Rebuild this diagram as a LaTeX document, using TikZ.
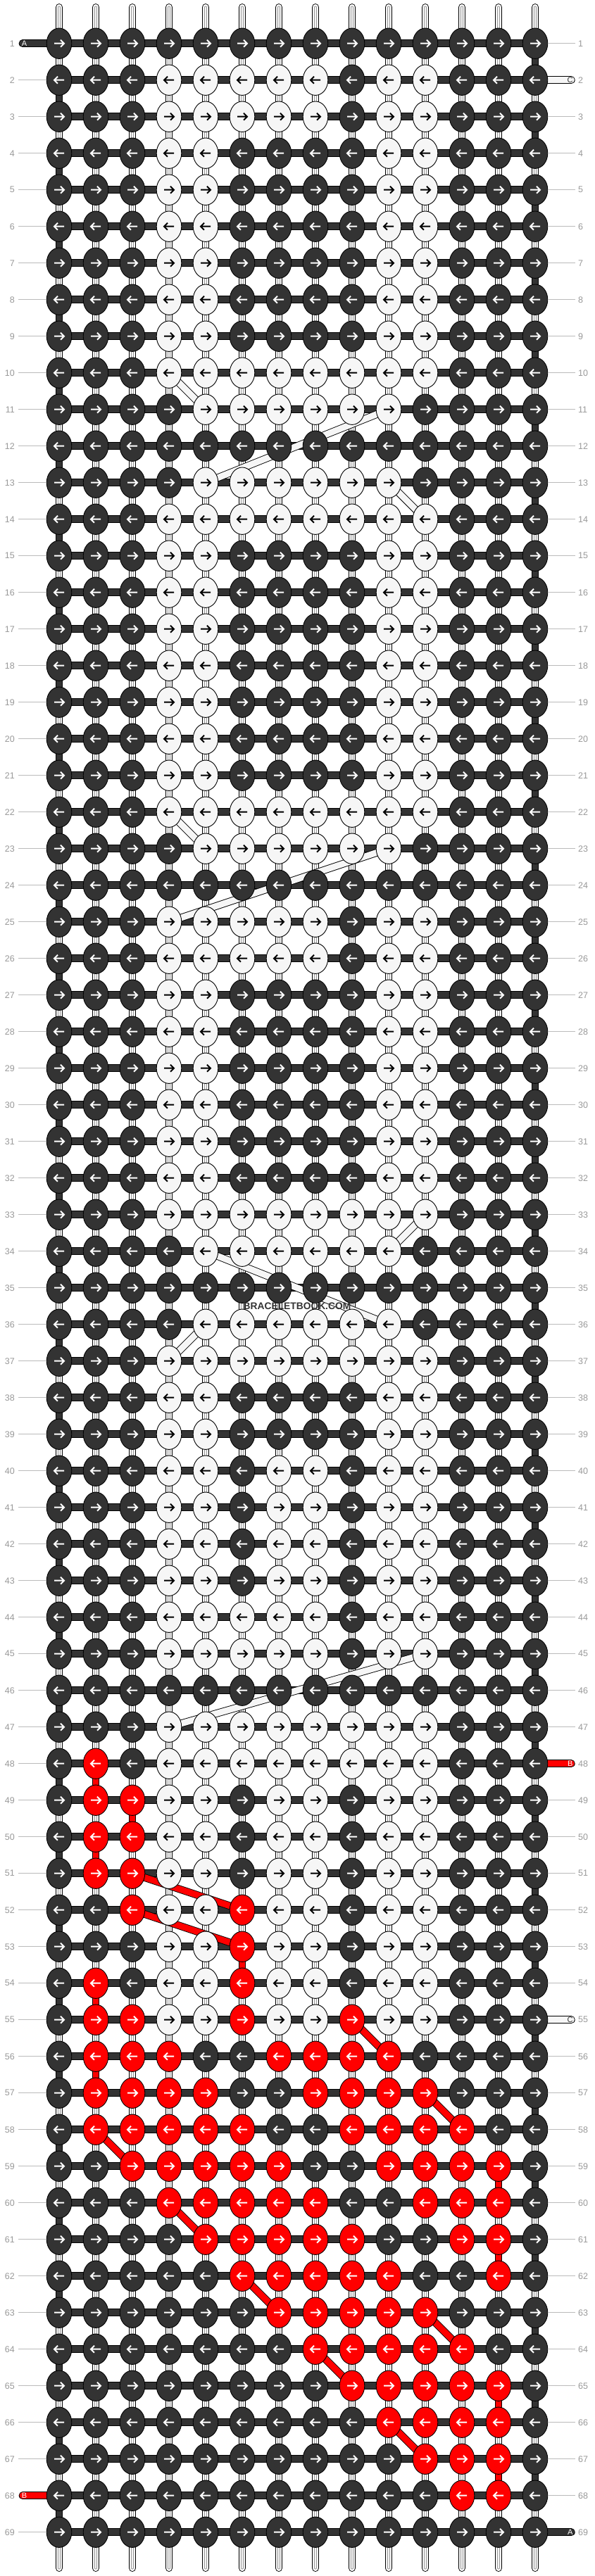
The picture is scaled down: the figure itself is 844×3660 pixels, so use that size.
\documentclass[tikz,border=0pt]{standalone}
\usepackage{fontspec}
\setmainfont{Liberation Sans}
\usetikzlibrary{shapes.geometric}
\definecolor{dk}{HTML}{333333}
\definecolor{wt}{HTML}{F6F6F6}
\definecolor{rd}{HTML}{FF0000}
\definecolor{lblgray}{HTML}{999999}
\definecolor{lline}{HTML}{BBBBBB}
\colorlet{fD}{dk}\colorlet{fW}{wt}\colorlet{fR}{rd}
\colorlet{aD}{white}\colorlet{aW}{black}\colorlet{aR}{white}
\colorlet{sD}{dk}\colorlet{sW}{wt}\colorlet{sR}{rd}
\pgfdeclarelayer{strings}
\pgfsetlayers{strings,main}
\tikzset{
 knot/.style={ellipse, minimum width=35.6, minimum height=43.4, inner sep=0, draw=black, line width=0.9},
 arr/.style={line width=2},
 strand/.style={line width=10.7, draw=black, postaction={draw=#1, line width=8.9}},
 strW/.style={line width=10.7, draw=black, postaction={draw=wt, line width=8.9}, postaction={draw=black!40, line width=3.6}, postaction={draw=wt, line width=1.8}},
 tick/.style={draw=lline, line width=1},
 lbl/.style={font=\fontsize{12.5}{14}\selectfont, text=lblgray, inner sep=0},
 stubl/.style={font=\fontsize{11}{12}\selectfont, inner sep=0},
 wm/.style={font=\bfseries\fontsize{13.8}{15}\selectfont, text=dk, inner sep=0}
}
\expandafter\def\csname vs-48-1\endcsname{R}
\expandafter\def\csname vs-49-2\endcsname{R}
\expandafter\def\csname vs-50-1\endcsname{R}
\expandafter\def\csname vs-53-5\endcsname{R}
\expandafter\def\csname vs-54-1\endcsname{R}
\expandafter\def\csname vs-56-1\endcsname{R}
\expandafter\def\csname vs-59-12\endcsname{R}
\expandafter\def\csname vs-61-12\endcsname{R}
\expandafter\def\csname vs-65-12\endcsname{R}
\expandafter\def\csname vs-67-12\endcsname{R}
\begin{document}
\begin{tikzpicture}[x=1pt,y=-1pt]
\useasboundingbox (0,0) rectangle (844,3660);
\begin{pgfonlayer}{strings}
\fill[white] (0,0) rectangle (844,3660);
\end{pgfonlayer}
% knots
\foreach \r/\s in {
1/{D,D,D,D,D,D,D,D,D,D,D,D,D,D},
2/{D,D,D,W,W,W,W,W,D,W,W,D,D,D},
3/{D,D,D,W,W,W,W,W,D,W,W,D,D,D},
4/{D,D,D,W,W,D,D,D,D,W,W,D,D,D},
5/{D,D,D,W,W,D,D,D,D,W,W,D,D,D},
6/{D,D,D,W,W,D,D,D,D,W,W,D,D,D},
7/{D,D,D,W,W,D,D,D,D,W,W,D,D,D},
8/{D,D,D,W,W,D,D,D,D,W,W,D,D,D},
9/{D,D,D,W,W,D,D,D,D,W,W,D,D,D},
10/{D,D,D,W,W,W,W,W,W,W,W,D,D,D},
11/{D,D,D,D,W,W,W,W,W,W,D,D,D,D},
12/{D,D,D,D,D,D,D,D,D,D,D,D,D,D},
13/{D,D,D,D,W,W,W,W,W,W,D,D,D,D},
14/{D,D,D,W,W,W,W,W,W,W,W,D,D,D},
15/{D,D,D,W,W,D,D,D,D,W,W,D,D,D},
16/{D,D,D,W,W,D,D,D,D,W,W,D,D,D},
17/{D,D,D,W,W,D,D,D,D,W,W,D,D,D},
18/{D,D,D,W,W,D,D,D,D,W,W,D,D,D},
19/{D,D,D,W,W,D,D,D,D,W,W,D,D,D},
20/{D,D,D,W,W,D,D,D,D,W,W,D,D,D},
21/{D,D,D,W,W,D,D,D,D,W,W,D,D,D},
22/{D,D,D,W,W,W,W,W,W,W,W,D,D,D},
23/{D,D,D,D,W,W,W,W,W,W,D,D,D,D},
24/{D,D,D,D,D,D,D,D,D,D,D,D,D,D},
25/{D,D,D,W,W,W,W,W,D,W,W,D,D,D},
26/{D,D,D,W,W,W,W,W,D,W,W,D,D,D},
27/{D,D,D,W,W,D,D,D,D,W,W,D,D,D},
28/{D,D,D,W,W,D,D,D,D,W,W,D,D,D},
29/{D,D,D,W,W,D,D,D,D,W,W,D,D,D},
30/{D,D,D,W,W,D,D,D,D,W,W,D,D,D},
31/{D,D,D,W,W,D,D,D,D,W,W,D,D,D},
32/{D,D,D,W,W,D,D,D,D,W,W,D,D,D},
33/{D,D,D,W,W,W,W,W,W,W,W,D,D,D},
34/{D,D,D,D,W,W,W,W,W,W,D,D,D,D},
35/{D,D,D,D,D,D,D,D,D,D,D,D,D,D},
36/{D,D,D,D,W,W,W,W,W,W,D,D,D,D},
37/{D,D,D,W,W,W,W,W,W,W,W,D,D,D},
38/{D,D,D,W,W,D,D,D,D,W,W,D,D,D},
39/{D,D,D,W,W,D,D,D,D,W,W,D,D,D},
40/{D,D,D,W,W,D,W,W,D,W,W,D,D,D},
41/{D,D,D,W,W,D,W,W,D,W,W,D,D,D},
42/{D,D,D,W,W,D,W,W,D,W,W,D,D,D},
43/{D,D,D,W,W,D,W,W,D,W,W,D,D,D},
44/{D,D,D,W,W,W,W,W,D,W,W,D,D,D},
45/{D,D,D,W,W,W,W,W,D,W,W,D,D,D},
46/{D,D,D,D,D,D,D,D,D,D,D,D,D,D},
47/{D,D,D,W,W,W,W,W,W,W,W,D,D,D},
48/{D,R,D,W,W,W,W,W,W,W,W,D,D,D},
49/{D,R,R,W,W,D,W,W,D,W,W,D,D,D},
50/{D,R,R,W,W,D,W,W,D,W,W,D,D,D},
51/{D,R,R,W,W,D,W,W,D,W,W,D,D,D},
52/{D,D,R,W,W,R,W,W,D,W,W,D,D,D},
53/{D,D,D,W,W,R,W,W,D,W,W,D,D,D},
54/{D,R,D,W,W,R,W,W,D,W,W,D,D,D},
55/{D,R,R,W,W,R,W,W,R,W,W,D,D,D},
56/{D,R,R,R,D,D,R,R,R,R,D,D,D,D},
57/{D,R,R,R,R,D,D,R,R,R,R,D,D,D},
58/{D,R,R,R,R,R,D,D,R,R,R,R,D,D},
59/{D,D,R,R,R,R,R,D,D,R,R,R,R,D},
60/{D,D,D,R,R,R,R,R,D,D,R,R,R,D},
61/{D,D,D,D,R,R,R,R,R,D,D,R,R,D},
62/{D,D,D,D,D,R,R,R,R,R,D,D,R,D},
63/{D,D,D,D,D,D,R,R,R,R,R,D,D,D},
64/{D,D,D,D,D,D,D,R,R,R,R,R,D,D},
65/{D,D,D,D,D,D,D,D,R,R,R,R,R,D},
66/{D,D,D,D,D,D,D,D,D,R,R,R,R,D},
67/{D,D,D,D,D,D,D,D,D,D,R,R,R,D},
68/{D,D,D,D,D,D,D,D,D,D,D,R,R,D},
69/{D,D,D,D,D,D,D,D,D,D,D,D,D,D}} {
  \pgfmathsetmacro{\yy}{61.7+52*(\r-1)}
  \ifodd\r\def\dd{1}\else\def\dd{(-1)}\fi
  \pgfmathsetmacro{\yu}{\yy-5}
  \pgfmathsetmacro{\yl}{\yy+5}
  \foreach \k [count=\c from 0] in \s {
    \pgfmathsetmacro{\xx}{84+52*\c}
    \pgfmathsetmacro{\xa}{\xx-7*\dd}
    \pgfmathsetmacro{\xb}{\xx+7*\dd}
    \pgfmathsetmacro{\xc}{\xx+2*\dd}
    \node[knot, fill=f\k] (k-\r-\c) at (\xx,\yy) {};
    \draw[arr, draw=a\k] (\xa,\yy) -- (\xb,\yy) (\xc,\yu) -- (\xb,\yy) -- (\xc,\yl);
  }
}
\begin{pgfonlayer}{strings}
% vertical string segments
\foreach \r in {1,...,68} {
  \pgfmathtruncatemacro{\rn}{\r+1}
  \foreach \c in {0,...,13} {
    \def\t{W}%
    \ifnum\c=0 \ifodd\r\else\def\t{D}\fi\fi
    \ifnum\c=13 \ifodd\r\def\t{D}\fi\fi
    \ifcsname vs-\r-\c\endcsname\edef\t{\csname vs-\r-\c\endcsname}\fi
    \if\t W\draw[strW] (k-\r-\c.center) -- (k-\rn-\c.center);
    \else\draw[strand=s\t] (k-\r-\c.center) -- (k-\rn-\c.center);\fi
  }
}
% top and bottom string ends
\foreach \c in {0,...,13} {
  \coordinate (top-\c) at (84+52*\c,10.4);
  \coordinate (bot-\c) at (84+52*\c,3648.6);
  \draw[strW, line cap=round] (top-\c) -- (k-1-\c.center);
  \draw[strW, line cap=round] (k-69-\c.center) -- (bot-\c);
}
% horizontal working string
\foreach \r in {1,...,69} {
  \draw[strand=dk] (k-\r-0.center) -- (k-\r-13.center);
}
% moving strings (white)
\foreach \a/\b/\p/\q in {10/3/11/4, 11/9/13/4, 13/9/14/10, 22/3/23/4, 23/9/25/3, 33/10/34/9, 34/4/36/9, 36/4/37/3, 45/10/47/3} {
  \draw[strand=wt] (k-\a-\b.center) -- (k-\p-\q.center);
}
% moving strings (red)
\foreach \a/\b/\p/\q in {51/2/52/5, 52/2/53/5, 55/8/56/9, 57/10/58/11, 58/1/59/2, 60/3/61/4, 62/5/63/6, 63/10/64/11, 64/7/65/8, 66/9/67/10} {
  \draw[strand=rd] (k-\a-\b.center) -- (k-\p-\q.center);
}
% side string ends
\coordinate (sa1) at (32.05,61.7);
\coordinate (sc2) at (811.35,113.7);
\coordinate (sb48) at (811.35,2505.7);
\coordinate (sc55) at (811.35,2869.7);
\coordinate (sb68) at (32.05,3545.7);
\coordinate (sa69) at (811.35,3597.7);
\draw[strand=dk, line cap=round] (sa1) -- (k-1-0.center);
\draw[strand=wt, line cap=round] (k-2-13.center) -- (sc2);
\draw[strand=rd, line cap=round] (k-48-13.center) -- (sb48);
\draw[strand=wt, line cap=round] (k-55-13.center) -- (sc55);
\draw[strand=rd, line cap=round] (sb68) -- (k-68-0.center);
\draw[strand=dk, line cap=round] (k-69-13.center) -- (sa69);
\end{pgfonlayer}
% string letters
\node[stubl, text=white] (lA1) at (34.5,61.7) {A};
\node[stubl, text=dk] (lC2) at (809.7,113.7) {C};
\node[stubl, text=white] (lB48) at (809.7,2505.7) {B};
\node[stubl, text=dk] (lC55) at (809.7,2869.7) {C};
\node[stubl, text=white] (lB68) at (34.5,3545.7) {B};
\node[stubl, text=white] (lA69) at (809.7,3597.7) {A};
% row numbers
\foreach \r in {1,...,69} {
  \pgfmathsetmacro{\yy}{61.7+52*(\r-1)}
  \node[lbl, anchor=east] (labL-\r) at (21,\yy) {\r};
  \node[lbl, anchor=west] (labR-\r) at (821,\yy) {\r};
  \ifnum\r=1 \else\ifnum\r=68 \else
    \draw[tick] ([xshift=5]labL-\r.east) -- (k-\r-0.west);
  \fi\fi
  \ifnum\r=2 \else\ifnum\r=48 \else\ifnum\r=55 \else\ifnum\r=69 \else
    \draw[tick] (k-\r-13.east) -- ([xshift=-4]labR-\r.west);
  \fi\fi\fi\fi
}
\node[wm] (wm) at (422,1856) {BRACELETBOOK.COM};
\end{tikzpicture}
\end{document}
